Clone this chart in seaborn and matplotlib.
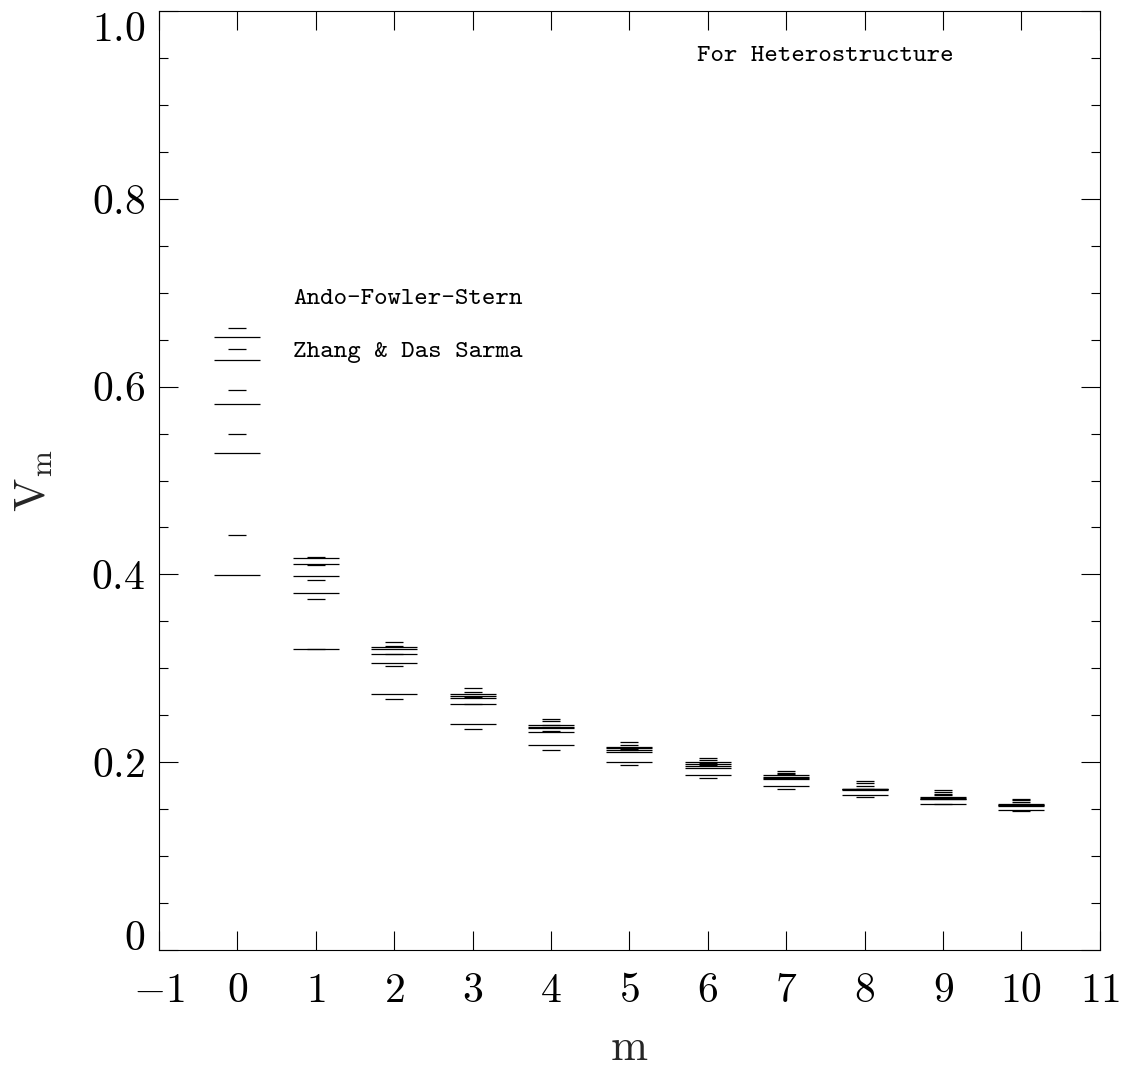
import numpy as np
import pandas as pd
import matplotlib
matplotlib.use("Agg")
import matplotlib.pyplot as plt
from matplotlib.ticker import MultipleLocator
import seaborn as sns

# angular momentum index
m_vals = list(range(0, 11))

# Ando-Fowler-Stern levels (long bars), 5 values per m
afs_levels = [
    [0.653, 0.628, 0.581, 0.529, 0.399],
    [0.418, 0.411, 0.398, 0.380, 0.321],
    [0.323, 0.321, 0.315, 0.306, 0.273],
    [0.273, 0.271, 0.268, 0.262, 0.241],
    [0.240, 0.237, 0.236, 0.232, 0.218],
    [0.216, 0.215, 0.213, 0.211, 0.200],
    [0.200, 0.198, 0.196, 0.194, 0.186],
    [0.186, 0.184, 0.183, 0.182, 0.175],
    [0.172, 0.172, 0.171, 0.170, 0.165],
    [0.163, 0.162, 0.161, 0.161, 0.156],
    [0.155, 0.154, 0.154, 0.153, 0.149],
]

# Zhang & Das Sarma levels (short bars), 5 values per m
zds_levels = [
    [0.662, 0.640, 0.596, 0.550, 0.442],
    [0.419, 0.410, 0.394, 0.374, 0.321],
    [0.328, 0.324, 0.315, 0.303, 0.267],
    [0.279, 0.275, 0.270, 0.262, 0.235],
    [0.246, 0.244, 0.240, 0.233, 0.213],
    [0.222, 0.218, 0.214, 0.213, 0.197],
    [0.205, 0.202, 0.199, 0.197, 0.183],
    [0.191, 0.189, 0.187, 0.183, 0.172],
    [0.180, 0.178, 0.175, 0.172, 0.163],
    [0.170, 0.168, 0.166, 0.165, 0.156],
    [0.161, 0.160, 0.158, 0.156, 0.148],
]

x_ticks = list(range(-1, 12))
y_ticks = [0, 0.2, 0.4, 0.6, 0.8, 1.0]
y_tick_labels = ["0", "0.2", "0.4", "0.6", "0.8", "1.0"]

rows = []
for m, vs in zip(m_vals, afs_levels):
    for v in vs:
        rows.append({"m": m, "V": v, "src": "Ando-Fowler-Stern"})
for m, vs in zip(m_vals, zds_levels):
    for v in vs:
        rows.append({"m": m, "V": v, "src": "Zhang & Das Sarma"})
df = pd.DataFrame(rows)

sns.set_style("ticks")
plt.rcParams["font.family"] = ["cmr10", "DejaVu Serif"]
plt.rcParams["mathtext.fontset"] = "cm"
plt.rcParams["axes.unicode_minus"] = True

fig = plt.figure(figsize=(11.28, 10.73), dpi=100)
ax = fig.add_axes([0.141, 0.1146, 0.834, 0.8751])

# long bars ~33pt, short bars ~12pt
sns.scatterplot(data=df[df.src == "Ando-Fowler-Stern"], x="m", y="V", marker="_",
                s=33 ** 2, linewidth=0.9, color="black", ax=ax, legend=False)
sns.scatterplot(data=df[df.src == "Zhang & Das Sarma"], x="m", y="V", marker="_",
                s=12.5 ** 2, linewidth=0.9, color="black", ax=ax, legend=False)

ax.set_xlim(-1, 11)
ax.set_ylim(0, 1.0)
ax.set_xticks(x_ticks, [r"$%d$" % t for t in x_ticks])
ax.set_yticks(y_ticks, ["$%s$" % s for s in y_tick_labels])
ax.yaxis.set_minor_locator(MultipleLocator(0.05))

ax.tick_params(which="both", direction="in", top=True, right=True,
               width=0.8, colors="black", labelsize=30)
ax.tick_params(which="major", length=13.5)
ax.tick_params(which="minor", length=6.5)
ax.tick_params(axis="x", pad=16)
ax.tick_params(axis="y", pad=10)
for sp in ax.spines.values():
    sp.set_linewidth(0.8)
    sp.set_color("black")

ax.set_xlabel(r"$\mathrm{m}$", fontsize=32, labelpad=14)
ax.set_ylabel(r"$\mathrm{V_m}$", fontsize=32, labelpad=26)

# keep end labels inside the figure, like the original
ylabs = ax.get_yticklabels()
ylabs[0].set_va("baseline")
ylabs[-1].set_va("top")

txt = dict(family="cmtt10", fontsize=18.5, color="black", va="center", ha="left")
ax.text(0.71, 0.693, "Ando-Fowler-Stern", **txt)
ax.text(0.71, 0.636, "Zhang & Das Sarma", **txt)
ax.text(5.86, 0.952, "For Heterostructure", **txt)

fig.savefig("out.png", dpi=100)
